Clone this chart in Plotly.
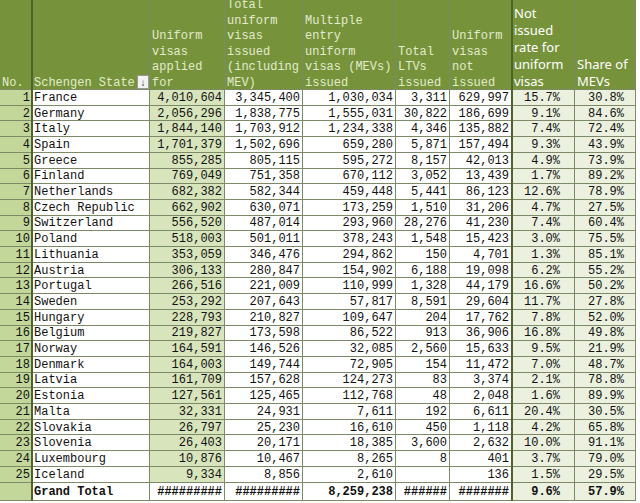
import plotly.graph_objects as go

states = ["France", "Germany", "Italy", "Spain", "Greece", "Finland", "Netherlands",
          "Czech Republic", "Switzerland", "Poland", "Lithuania", "Austria", "Portugal",
          "Sweden", "Hungary", "Belgium", "Norway", "Denmark", "Latvia", "Estonia",
          "Malta", "Slovakia", "Slovenia", "Luxembourg", "Iceland"]
applied = [4010604, 2056296, 1844140, 1701379, 855285, 769049, 682382, 662902, 556520,
           518003, 353059, 306133, 266516, 253292, 228793, 219827, 164591, 164003,
           161709, 127561, 32331, 26797, 26403, 10876, 9334]
issued = [3345400, 1838775, 1703912, 1502696, 805115, 751358, 582344, 630071, 487014,
          501011, 346476, 280847, 221009, 207643, 210827, 173598, 146526, 149744,
          157628, 125465, 24931, 25230, 20171, 10467, 8856]
mevs = [1030034, 1555031, 1234338, 659280, 595272, 670112, 459448, 173259, 293960,
        378243, 294862, 154902, 110999, 57817, 109647, 86522, 32085, 72905,
        124273, 112768, 7611, 16610, 18385, 8265, 2610]
ltvs = [3311, 30822, 4346, 5871, 8157, 3052, 5441, 1510, 28276, 1548, 150, 6188, 1328,
        8591, 204, 913, 2560, 154, 83, 48, 192, 450, 3600, 8, None]
not_issued = [629997, 186699, 135882, 157494, 42013, 13439, 86123, 31206, 41230, 15423,
              4701, 19098, 44179, 29604, 17762, 36906, 15633, 11472, 3374, 2048, 6611,
              1118, 2632, 401, 136]
not_issued_rate = [15.7, 9.1, 7.4, 9.3, 4.9, 1.7, 12.6, 4.7, 7.4, 3.0, 1.3, 6.2, 16.6,
                   11.7, 7.8, 16.8, 9.5, 7.0, 2.1, 1.6, 20.4, 4.2, 10.0, 3.7, 1.5]
mev_share = [30.8, 84.6, 72.4, 43.9, 73.9, 89.2, 78.9, 27.5, 60.4, 75.5, 85.1, 55.2, 50.2,
             27.8, 52.0, 49.8, 21.9, 48.7, 78.8, 89.9, 30.5, 65.8, 91.1, 79.0, 29.5]

total_row = ["", "Grand Total", "#########", "#########", "8,259,238", "######",
             "#######", "9.6%", "57.9%"]

headers = ["No.", "Schengen State", "Uniform<br>visas<br>applied<br>for",
           "Total<br>uniform<br>visas<br>issued<br>(including<br>MEV)",
           "Multiple<br>entry<br>uniform<br>visas (MEVs)<br>issued",
           "Total<br>LTVs<br>issued", "Uniform<br>visas<br>not<br>issued",
           "Not<br>issued<br>rate for<br>uniform<br>visas", "Share of<br>MEVs"]

# geometry (pixels)
col_edges = [0, 32, 150, 225, 303, 396, 450, 512, 575, 636]
header_h = 90
row_h = 15.7
n = len(states)
row_edges = [0, header_h] + [header_h + row_h * (i + 1) for i in range(n)] + [501]
row_mid = [(row_edges[i + 1] + row_edges[i + 2]) / 2 for i in range(n + 1)]


def num(v):
    return "" if v is None else f"{v:,}"


def pct(v):
    return f"{v:.1f}%"


cols = [
    [str(i + 1) for i in range(n)],
    states,
    [num(v) for v in applied],
    [num(v) for v in issued],
    [num(v) for v in mevs],
    [num(v) for v in ltvs],
    [num(v) for v in not_issued],
    [pct(v) for v in not_issued_rate],
    [pct(v) for v in mev_share],
]

# cell fill codes: 0 header, 1 No. green, 2 white, 3 applied green, 4 pale green
col_codes = [1, 2, 3, 2, 2, 2, 2, 4, 4]
total_codes = [1, 2, 2, 2, 2, 2, 2, 4, 4]
z = [[0] * 9] + [col_codes[:] for _ in range(n)] + [total_codes]
palette = ["#76933c", "#c4d79b", "#ffffff", "#d8e4bc", "#ebf1de"]
cscale = []
for k, c in enumerate(palette):
    cscale += [[k / len(palette), c], [(k + 1) / len(palette), c]]

fig = go.Figure()
fig.add_trace(go.Heatmap(
    x=col_edges, y=row_edges, z=z, zmin=0, zmax=len(palette),
    colorscale=cscale, showscale=False, xgap=1, ygap=1, hoverinfo="skip",
))

mono = "Liberation Mono"
sans = "Noto Sans"
hdr_color = "#e2ebcc"
aligns = ["right", "left", "right", "right", "right", "right", "right", "right", "right"]
right_pad = [2, 0, 3, 3, 3, 3, 3, 15, 12]

for j, vals in enumerate(cols):
    if aligns[j] == "left":
        xa, pos = col_edges[j] + 2, "middle right"
    else:
        xa, pos = col_edges[j + 1] - right_pad[j], "middle left"
    texts = vals + (["<b>" + total_row[j] + "</b>"] if total_row[j] else [""])
    fig.add_trace(go.Scatter(
        x=[xa] * (n + 1), y=row_mid, mode="text", text=texts, textposition=pos,
        textfont=dict(family=mono, size=12, color="#111111"), hoverinfo="skip",
    ))

# header labels, bottom aligned
for j, h in enumerate(headers):
    is_sans = j >= 7
    fig.add_trace(go.Scatter(
        x=[col_edges[j] + 2], y=[header_h - 1], mode="text", text=[h],
        textposition="top right",
        textfont=dict(family=sans if is_sans else mono, size=13 if is_sans else 12,
                      color="white" if is_sans else hdr_color),
        hoverinfo="skip",
    ))

# darker borders (after No. and before the rate columns)
for xb in (col_edges[1], col_edges[7]):
    fig.add_shape(type="line", x0=xb, x1=xb, y0=0, y1=row_edges[-1],
                  line=dict(color="#4f6228", width=2))

# filter button next to "Schengen State"
fig.add_annotation(x=col_edges[2] - 7, y=header_h - 8, text="↓", showarrow=False,
                   font=dict(family=sans, size=10, color="#333333"),
                   bgcolor="#f2f2f2", bordercolor="#999999", borderwidth=1,
                   borderpad=0, width=10, height=12)

fig.update_xaxes(range=[0, 636], visible=False, domain=[0, 636 / 640])
fig.update_yaxes(range=[501, 0], visible=False, domain=[2 / 503, 1])
fig.update_layout(
    width=640, height=503,
    margin=dict(l=0, r=0, t=0, b=0),
    paper_bgcolor="white",
    plot_bgcolor="#7d8a68",
    showlegend=False,
)
fig.write_html("out.html", config={"displayModeBar": False},
               post_script=["document.body.style.margin='0';"])
